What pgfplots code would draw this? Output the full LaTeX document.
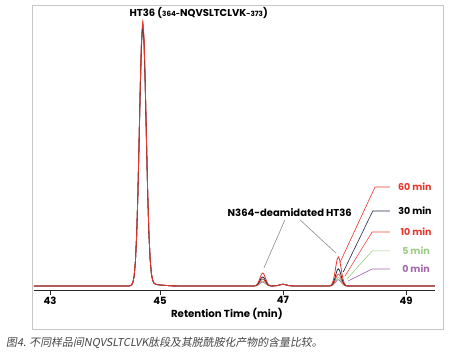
\documentclass[border=0pt]{standalone}
\usepackage{pgfplots}
\pgfplotsset{compat=1.18}
\usepackage{pgfplotstable}
\usepackage{fontspec}
\setmainfont{Poppins}
\newfontfamily\cjk[FakeSlant=0.18]{Noto Sans CJK SC}
\definecolor{c60}{HTML}{E8362D}
\definecolor{c30}{HTML}{1F2A44}
\definecolor{c10}{HTML}{EA4B3E}
\definecolor{c5}{HTML}{9CCB86}
\definecolor{c0}{HTML}{A566AA}
\definecolor{capgray}{HTML}{444444}
\pgfplotstableread{
x s0 s5 s10 s30 s60
42.95 0 0 0 0 0
44.40 0 0 0 0 0
44.50 0 0 0 0 0
44.52 0.13 0.13 0.13 0.13 0.13
44.54 0.46 0.46 0.47 0.46 0.47
44.56 1.41 1.41 1.44 1.43 1.45
44.58 3.78 3.80 3.86 3.84 3.9
44.60 9.02 9.07 9.21 9.16 9.3
44.62 18.53 18.62 18.91 18.81 19.1
44.64 33.66 33.83 34.35 34.18 34.7
44.66 53.54 53.82 54.65 54.37 55.2
44.68 74.50 74.88 76.03 75.65 76.8
44.70 90.79 91.26 92.66 92.20 93.6
44.72 97.0 97.5 99.0 98.5 100
44.74 90.79 91.26 92.66 92.20 93.6
44.76 74.50 74.88 76.03 75.65 76.8
44.78 53.84 54.11 54.95 54.67 55.5
44.80 34.14 34.32 34.85 34.67 35.2
44.82 19.21 19.31 19.60 19.50 19.8
44.84 9.80 9.85 10.0 9.95 10.1
44.86 4.56 4.58 4.65 4.63 4.7
44.88 2.18 2.19 2.23 2.22 2.25
44.90 1.13 1.14 1.16 1.15 1.17
44.92 0.76 0.76 0.77 0.77 0.78
44.95 0.53 0.54 0.54 0.54 0.55
45.00 0.39 0.39 0.40 0.39 0.40
45.10 0.19 0.20 0.20 0.20 0.20
45.20 0.05 0.05 0.05 0.05 0.05
45.50 0 0 0 0 0
46.00 0 0 0 0 0
46.50 0 0 0 0 0
46.53 0.01 0.02 0.02 0.03 0.04
46.55 0.04 0.06 0.08 0.10 0.14
46.57 0.13 0.16 0.22 0.29 0.42
46.59 0.31 0.39 0.54 0.70 1.01
46.61 0.62 0.78 1.07 1.40 2.01
46.63 1.01 1.28 1.75 2.29 3.30
46.65 1.36 1.72 2.36 3.08 4.44
46.67 1.5 1.9 2.6 3.4 4.9
46.69 1.36 1.72 2.36 3.08 4.44
46.71 1.01 1.28 1.75 2.29 3.30
46.73 0.62 0.78 1.07 1.40 2.01
46.75 0.31 0.39 0.54 0.70 1.01
46.77 0.13 0.16 0.22 0.29 0.42
46.79 0.04 0.06 0.08 0.10 0.14
46.81 0.01 0.02 0.02 0.03 0.04
46.90 0.09 0.09 0.09 0.09 0.09
46.95 0.42 0.42 0.42 0.42 0.42
47.00 0.70 0.70 0.70 0.70 0.70
47.05 0.42 0.42 0.42 0.42 0.42
47.10 0.09 0.09 0.09 0.09 0.09
47.20 0 0 0 0 0
47.70 0 0 0 0 0
47.76 0.02 0.03 0.04 0.05 0.09
47.78 0.07 0.09 0.13 0.19 0.32
47.80 0.20 0.27 0.38 0.55 0.94
47.82 0.49 0.66 0.93 1.34 2.27
47.84 0.99 1.32 1.85 2.67 4.52
47.86 1.62 2.16 3.03 4.38 7.41
47.88 2.17 2.90 4.08 5.89 9.97
47.90 2.4 3.2 4.5 6.5 11
47.92 2.17 2.90 4.08 5.89 9.97
47.94 1.62 2.16 3.03 4.38 7.41
47.96 0.99 1.32 1.85 2.67 4.52
47.98 0.49 0.66 0.93 1.34 2.27
48.00 0.20 0.27 0.38 0.55 0.94
48.02 0.07 0.09 0.13 0.19 0.32
48.04 0.02 0.03 0.04 0.05 0.09
48.20 0 0 0 0 0
49.47 0 0 0 0 0
}\chrom
\begin{document}
\begin{tikzpicture}[x=1pt,y=1pt]
\useasboundingbox (0,0) rectangle (451,358);
\draw[black!22, line width=0.7pt] (32,29) rectangle (443,353);
\begin{axis}[
  at={(34pt,68pt)}, anchor=south west,
  scale only axis, width=401pt, height=280pt,
  xmin=42.951, xmax=49.472, ymin=-1.5, ymax=103.76,
  axis x line*=bottom, axis y line=none,
  axis line style={black!85, line width=0.7pt},
  xtick={43.21,45,47,49}, xticklabels={43,45,47,49},
  tick align=outside, major tick length=5pt,
  tick style={black!85, line width=0.7pt},
  xticklabel style={font=\bfseries\fontsize{10}{10}\selectfont, inner sep=1.5pt},
  xlabel={Retention Time (min)},
  xlabel style={at={(axis description cs:0.481,-0.0857)}, anchor=center, font=\bfseries\fontsize{10.2}{11}\selectfont},
  clip=false,
  every axis plot/.append style={line width=0.8pt, line join=round},
]
\addplot[c0] table[x=x,y=s0] {\chrom};
\addplot[c5] table[x=x,y=s5] {\chrom};
\addplot[c10] table[x=x,y=s10] {\chrom};
\addplot[c30] table[x=x,y=s30] {\chrom};
\addplot[c60] table[x=x,y=s60] {\chrom};

\node[font=\bfseries\fontsize{10}{11}\selectfont, inner sep=0pt] at (axis cs:45.63,102.6)
  {HT36 ({\fontsize{7.2}{8}\selectfont 364-}NQVSLTCLVK{\fontsize{7.2}{8}\selectfont -373})};

% deamidated annotation
\draw[black!45, line width=0.6pt] (axis cs:47.03,24.8) -- (axis cs:46.69,6.8);
\draw[black!45, line width=0.6pt] (axis cs:47.28,24.8) -- (axis cs:47.86,12.4);
\node[font=\bfseries\fontsize{10}{11}\selectfont, inner sep=0pt] at (axis cs:47.11,27.8) {N364-deamidated HT36};

% time labels
\draw[c60, line width=0.6pt] (axis cs:47.93,9.0) -- (axis cs:48.496,37.2) -- (axis cs:48.74,37.2);
\draw[c30, line width=0.6pt] (axis cs:47.98,5.3) -- (axis cs:48.46,28.2) -- (axis cs:48.74,28.2);
\draw[c10, line width=0.6pt] (axis cs:48.01,3.8) -- (axis cs:48.45,20.3) -- (axis cs:48.74,20.3);
\draw[c5, line width=0.6pt] (axis cs:48.04,2.6) -- (axis cs:48.45,13.2) -- (axis cs:48.74,13.2);
\draw[c0, line width=0.6pt] (axis cs:48.06,1.9) -- (axis cs:48.45,6.4) -- (axis cs:48.74,6.4);
\node[anchor=east, text=c60, font=\bfseries\fontsize{9.5}{10}\selectfont, inner sep=0pt] at (axis cs:49.42,37.2) {60 min};
\node[anchor=east, text=black, font=\bfseries\fontsize{9.5}{10}\selectfont, inner sep=0pt] at (axis cs:49.42,28.2) {30 min};
\node[anchor=east, text=c60, font=\bfseries\fontsize{9.5}{10}\selectfont, inner sep=0pt] at (axis cs:49.42,20.3) {10 min};
\node[anchor=east, text=c5, font=\bfseries\fontsize{9.5}{10}\selectfont, inner sep=0pt] at (axis cs:49.39,13.2) {5 min};
\node[anchor=east, text=c0, font=\bfseries\fontsize{9.5}{10}\selectfont, inner sep=0pt] at (axis cs:49.39,6.4) {0 min};
\end{axis}
\node[anchor=west, inner sep=0pt, text=capgray, font=\cjk\fontsize{10.9}{11}\selectfont] at (6,15)
  {图4. 不同样品间NQVSLTCLVK肽段及其脱酰胺化产物的含量比较。};
\end{tikzpicture}
\end{document}
